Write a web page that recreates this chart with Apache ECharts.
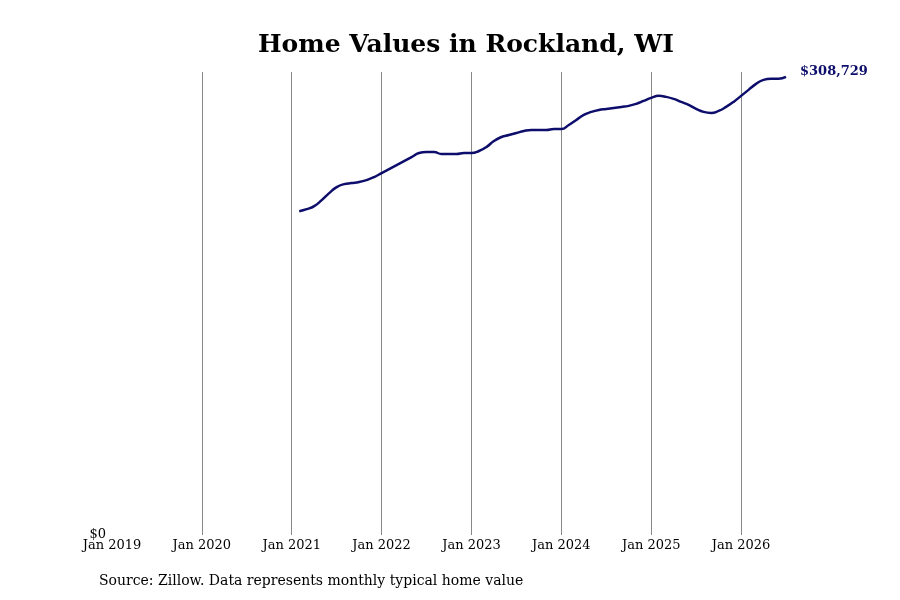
<!DOCTYPE html>
<html><head><meta charset="utf-8">
<script src="https://cdn.jsdelivr.net/npm/echarts@6/dist/echarts.min.js"></script>
<style>body{margin:0}#c{width:900px;height:600px}</style></head>
<body><div id="c"></div>
<script>
const startMonth = 25; // Feb 2021 (0 = Jan 2019)
const yPix = [212,210,207,201,194,188,185,184,183,181,178,
174,170,166,162,158,154,153,153,155,155,155,154,
154,152,148,142,138,136,134,132,131,131,131,130,
130,126,121,116,113,111,110,109,108,107,105,102,
99,97,98,100,103,106,110,113,114,112,108,103,
97,91,85,81,80,80,78];
const values = yPix.map(p => Math.round((535 - p) * 675.6));
values[values.length-1] = 308729;
const tickYears = [2019,2020,2021,2022,2023,2024,2025,2026];
const data = values.map((v,i)=>[startMonth + i, v]);
const chart = echarts.init(document.getElementById('c'));
chart.setOption({
  animation:false,
  textStyle:{fontFamily:'DejaVu Serif'},
  title:{text:'Home Values in Rockland, WI',left:253,top:28,textStyle:{fontFamily:'DejaVu Serif',fontSize:25,fontWeight:'bold',color:'#000'}},
  graphic:[{type:'text',left:99,top:574,style:{text:'Source: Zillow. Data represents monthly typical home value',font:'14px "DejaVu Serif"',fill:'#000'}}],
  grid:{left:112,right:114,top:72,bottom:65},
  xAxis:{type:'value',min:0,max:90,interval:12,
    axisLine:{show:false},axisTick:{show:false},
    axisLabel:{showMaxLabel:false,color:'#000',fontSize:13,margin:4,formatter:v=>'Jan '+(2019+v/12)},
    splitLine:{show:true,showMinLine:false,showMaxLine:false,lineStyle:{color:'#888',width:1}}},
  yAxis:{type:'value',min:0,max:312000,interval:312000,
    axisLine:{show:false},axisTick:{show:false},splitLine:{show:false},
    axisLabel:{color:'#000',fontSize:13,margin:6,verticalAlign:'middle',formatter:v=>v===0?'$0':''}},
  series:[{type:'line',data:data,smooth:true,showSymbol:false,
    lineStyle:{color:'#0d0d6b',width:2.5},
    endLabel:{show:true,formatter:'$308,729',color:'#0d0d6b',fontWeight:'bold',fontSize:13,offset:[6,-5]}}]
});
</script></body></html>
